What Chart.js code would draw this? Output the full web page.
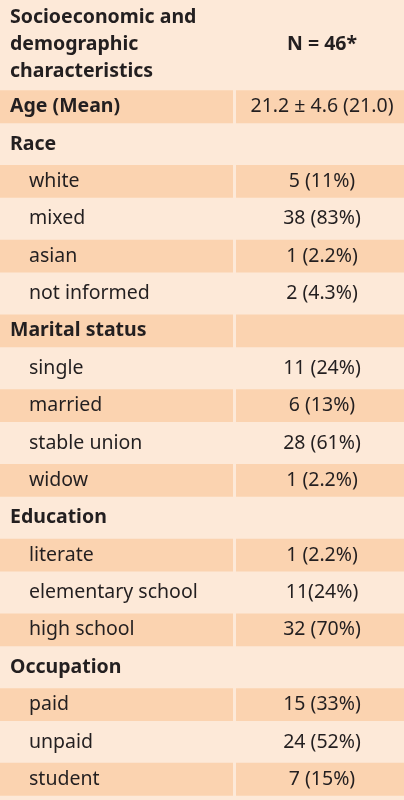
<!DOCTYPE html>
<html><head><meta charset="utf-8">
<script src="https://cdn.jsdelivr.net/npm/chart.js@4"></script>
<style>html,body{margin:0;padding:0;background:#fde9d8}#wrap{width:404px;height:800px}</style>
</head><body><div id="wrap"><canvas id="c"></canvas></div>
<script>
// rows of the table
const labels = ['Age (Mean)', 'Race', 'white', 'mixed', 'asian', 'not informed', 'Marital status',
  'single', 'married', 'stable union', 'widow', 'Education', 'literate', 'elementary school',
  'high school', 'Occupation', 'paid', 'unpaid', 'student'];
const values = ['21.2 \u00b1 4.6 (21.0)', '', '5 (11%)', '38 (83%)', '1 (2.2%)', '2 (4.3%)', '',
  '11 (24%)', '6 (13%)', '28 (61%)', '1 (2.2%)', '', '1 (2.2%)', '11(24%)',
  '32 (70%)', '', '15 (33%)', '24 (52%)', '7 (15%)'];
const isGroup = [true, true, false, false, false, false, true, false, false, false, false, true,
  false, false, false, true, false, false, false];
const headerLeft = ['Socioeconomic and', 'demographic', 'characteristics'];
const headerRight = 'N = 46*';
const leftCol = [0, 233];
const rightCol = [236, 404];

const FONT = '"Noto Sans", "Open Sans", sans-serif';
const shaded = (col) => labels.map((_, i) => i % 2 === 0 ? col : null);

const textPlugin = {
  id: 'cellText',
  afterDatasetsDraw(chart) {
    const ctx = chart.ctx, x = chart.scales.x, y = chart.scales.y;
    ctx.save();
    ctx.fillStyle = '#231f20';
    ctx.textBaseline = 'middle';
    // header
    ctx.font = 'bold 19.5px ' + FONT;
    ctx.textAlign = 'left';
    headerLeft.forEach((t, i) => ctx.fillText(t, x.getPixelForValue(10), 17 + i * 27));
    ctx.textAlign = 'center';
    ctx.fillText(headerRight, x.getPixelForValue(322), 44);
    labels.forEach((t, i) => {
      const py = y.getPixelForValue(i);
      ctx.font = (isGroup[i] ? 'bold ' : '') + '19.5px ' + FONT;
      ctx.textAlign = 'left';
      ctx.fillText(t, x.getPixelForValue(isGroup[i] ? 10 : 29), py);
      ctx.font = '19.5px ' + FONT;
      ctx.textAlign = 'center';
      if (values[i]) ctx.fillText(values[i], x.getPixelForValue(322), py);
    });
    ctx.restore();
  }
};

new Chart(document.getElementById('c'), {
  type: 'bar',
  data: {
    labels,
    datasets: [
      { data: shaded(leftCol), backgroundColor: '#fbd3b0', borderWidth: 0, grouped: false },
      { data: shaded(rightCol), backgroundColor: '#fbd3b0', borderWidth: 0, grouped: false }
    ]
  },
  options: {
    indexAxis: 'y',
    animation: false,
    responsive: true,
    maintainAspectRatio: false,
    layout: { padding: { top: 88, bottom: 2, left: 0, right: 0 } },
    datasets: { bar: { barPercentage: 0.88, categoryPercentage: 1 } },
    plugins: { legend: { display: false }, tooltip: { enabled: false } },
    scales: {
      x: { type: 'linear', min: 0, max: 404, display: false },
      y: { display: false }
    }
  },
  plugins: [textPlugin]
});
</script></body></html>
